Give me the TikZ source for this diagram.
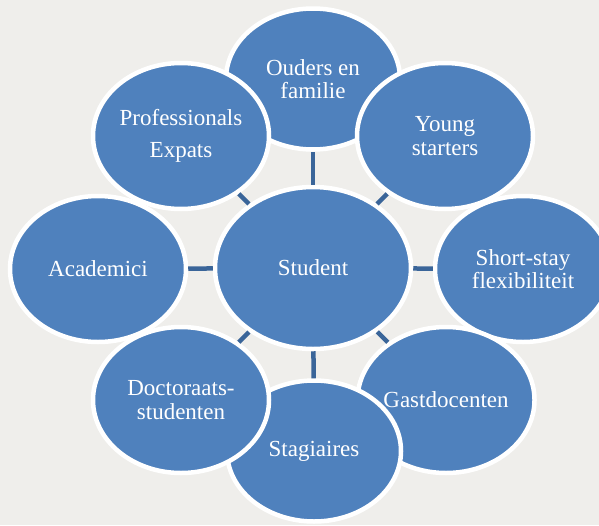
\documentclass[tikz,border=0pt]{standalone}
\usepackage{fontspec}
\setmainfont{Liberation Serif}
\usetikzlibrary{shapes.geometric}
\definecolor{bg}{HTML}{EFEEEB}
\definecolor{bubble}{HTML}{4F81BD}
\definecolor{link}{HTML}{3A6599}
\tikzset{
  bubblenode/.style={ellipse, fill=bubble, draw=white, line width=4.5pt, inner sep=0pt,
    text=white, align=center, font=\fontsize{23}{23.5}\selectfont,
    minimum width=176pt, minimum height=146pt},
  topbottom/.style={minimum width=174pt, minimum height=141pt},
  centernode/.style={minimum width=196pt, minimum height=162pt},
  linkline/.style={draw=link, line width=4.5pt}
}
\begin{document}
\begin{tikzpicture}[x=1pt,y=-1pt]
\fill[bg] (0,0) rectangle (599,525);
\useasboundingbox (0,0) rectangle (599,525);
% nodes (draw order matters for overlaps)
\node[bubblenode,topbottom] (ouders) at (313,79) {Ouders en\\familie};
\node[bubblenode] (prof) at (181,136) {Professionals\\[8pt]Expats};
\node[bubblenode] (young) at (445,136) {Young\\starters};
\node[bubblenode] (acad) at (98,269) {Academici};
\node[bubblenode] (short) at (523,269) {Short-stay\\flexibiliteit};
\node[bubblenode] (gast) at (446,400) {Gastdocenten};
\node[bubblenode,topbottom] (stag) at (314,451) {Stagiaires};
\node[bubblenode] (doct) at (181,400) {Doctoraats-\\studenten};
\node[bubblenode,centernode] (student) at (313,268) {Student};
% connectors
\foreach \s in {ouders,prof,young,acad,short,gast,stag,doct}{
  \path[linkline] (student) -- (\s);
}
\end{tikzpicture}
\end{document}
